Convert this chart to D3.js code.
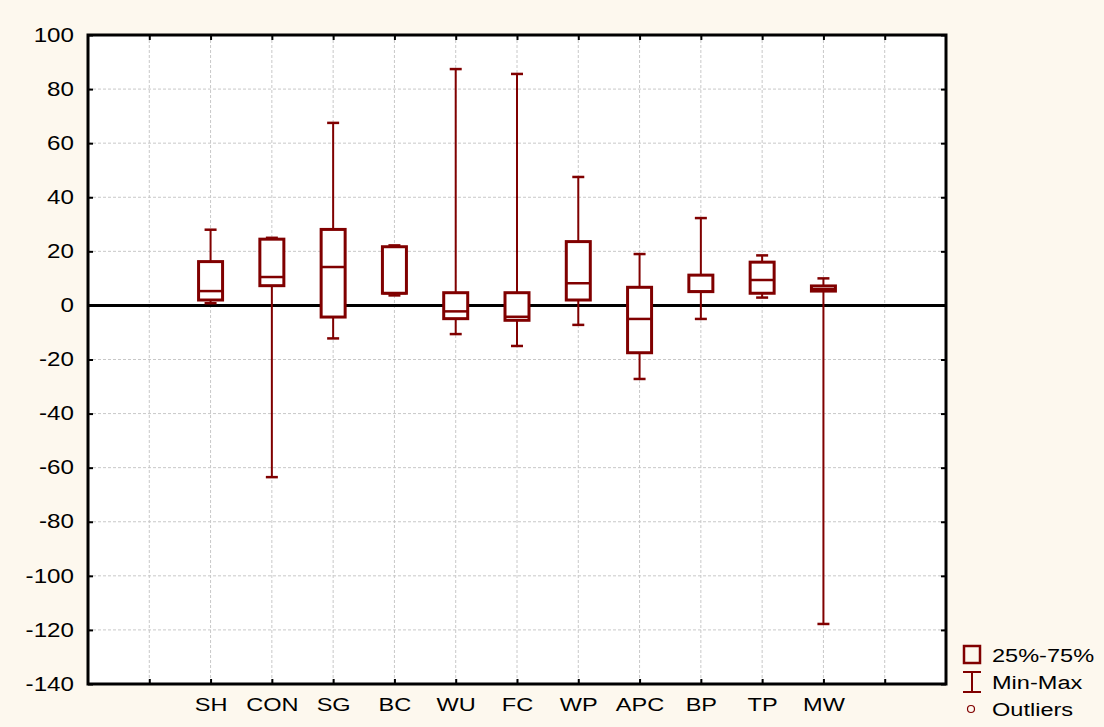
<!DOCTYPE html>
<html>
<head>
<meta charset="utf-8">
<script src="https://cdn.jsdelivr.net/npm/d3@7"></script>
<style>
  body { margin: 0; background: #fdf8ee; }
  svg { display: block; font-family: "Liberation Sans", Arial, sans-serif; }
</style>
</head>
<body>
<div class="canvas"></div>
<script>
const categories = ["SH", "CON", "SG", "BC", "WU", "FC", "WP", "APC", "BP", "TP", "MW"]
const maxs    = [28, 25, 67.5, 22.2, 87.4, 85.6, 47.5, 19, 32.3, 18.5, 10]
const q3s     = [16.2, 24.5, 28.1, 21.7, 4.7, 4.7, 23.6, 6.7, 11.2, 16, 7.2]
const medians = [5.3, 10.5, 14.2, 4.5, -2.2, -4.2, 8.2, -5, 5.1, 9.4, 6]
const q1s     = [2, 7.3, -4.3, 4.5, -4.9, -5.5, 2, -17.5, 5.1, 4.5, 5.3]
const mins    = [0.8, -63.5, -12.2, 3.7, -10.6, -15, -7.2, -27.2, -5, 2.9, -117.8]
const yTicks  = [-140, -120, -100, -80, -60, -40, -20, 0, 20, 40, 60, 80, 100]
const legendLabels = ["25%-75%", "Min-Max", "Outliers"]

const data = categories.map((c, i) => ({
  name: c, max: maxs[i], q3: q3s[i], median: medians[i], q1: q1s[i], min: mins[i]
}))

const width = 1104
const height = 727
const margin = { top: 35, left: 88, bottom: 43, right: 158 }
const graphWidth = width - margin.left - margin.right
const graphHeight = height - margin.top - margin.bottom
const red = '#800000'
const stretch = 1.24

// the original font is wide, so stretch text sideways around its anchor
function widen(sel) {
  sel.each(function () {
    const t = d3.select(this)
    const ax = +t.attr('x') || 0
    t.attr('transform', `translate(${ax},0) scale(${stretch},1) translate(${-ax},0)`)
  })
}

const svg = d3.select('.canvas')
  .append('svg')
    .attr('width', width)
    .attr('height', height)

const graph = svg.append('g')
  .attr('transform', `translate(${margin.left}, ${margin.top})`)

graph.append('rect')
  .attr('width', graphWidth)
  .attr('height', graphHeight)
  .attr('fill', '#fff')

// blank slots either side of the categories
const slots = ['_l', ...categories, '_r']

const x = d3.scalePoint()
  .domain(slots)
  .range([0, graphWidth])
  .padding(1)

const y = d3.scaleLinear()
  .domain([-140, 100])
  .range([graphHeight, 0])

// grid
graph.append('g')
  .selectAll('line')
  .data(yTicks.slice(1, -1))
  .enter().append('line')
    .attr('x1', 0).attr('x2', graphWidth)
    .attr('y1', d => y(d)).attr('y2', d => y(d))
    .attr('stroke', '#c8c8c8')
    .attr('stroke-dasharray', '3,2')

graph.append('g')
  .selectAll('line')
  .data(slots)
  .enter().append('line')
    .attr('x1', d => x(d)).attr('x2', d => x(d))
    .attr('y1', 0).attr('y2', graphHeight)
    .attr('stroke', '#c8c8c8')
    .attr('stroke-dasharray', '3,2')

// zero line
graph.append('line')
  .attr('x1', 0).attr('x2', graphWidth)
  .attr('y1', y(0)).attr('y2', y(0))
  .attr('stroke', '#000')
  .attr('stroke-width', 3)

// axes with inward ticks
const yAxis = d3.axisLeft(y).tickValues(yTicks).tickSizeInner(-5).tickSizeOuter(0).tickPadding(14)
const yAxisR = d3.axisRight(y).tickValues(yTicks).tickSizeInner(-5).tickSizeOuter(0).tickFormat('')
const xAxis = d3.axisBottom(x).tickSizeInner(-5).tickSizeOuter(0).tickPadding(14)
  .tickFormat(d => d.startsWith('_') ? '' : d)
const xAxisT = d3.axisTop(x).tickSizeInner(-5).tickSizeOuter(0).tickFormat('')

const yAxisGroup = graph.append('g').call(yAxis)
graph.append('g').attr('transform', `translate(${graphWidth}, 0)`).call(yAxisR)
const xAxisGroup = graph.append('g').attr('transform', `translate(0, ${graphHeight})`).call(xAxis)
graph.append('g').call(xAxisT)

graph.selectAll('.domain').remove()
graph.selectAll('.tick line').attr('stroke', '#000').attr('stroke-width', 2)

yAxisGroup.selectAll('text')
  .attr('font-size', 19.5)
  .attr('fill', '#000')
  .text(d => d < 0 ? '-' + Math.abs(d) : d)
  .call(widen)

xAxisGroup.selectAll('text')
  .attr('font-size', 19)
  .attr('fill', '#000')
  .call(widen)

// boxes
const boxW = 24
const capW = 12
const boxes = graph.append('g')
  .selectAll('g')
  .data(data)
  .enter().append('g')
    .attr('transform', d => `translate(${x(d.name)}, 0)`)

boxes.append('line')
  .attr('y1', d => y(d.max)).attr('y2', d => y(d.min))
  .attr('stroke', red).attr('stroke-width', 2)

boxes.append('line')
  .attr('x1', -capW / 2).attr('x2', capW / 2)
  .attr('y1', d => y(d.max)).attr('y2', d => y(d.max))
  .attr('stroke', red).attr('stroke-width', 2.5)

boxes.append('line')
  .attr('x1', -capW / 2).attr('x2', capW / 2)
  .attr('y1', d => y(d.min)).attr('y2', d => y(d.min))
  .attr('stroke', red).attr('stroke-width', 2.5)

boxes.append('rect')
  .attr('x', -boxW / 2)
  .attr('width', boxW)
  .attr('y', d => y(d.q3))
  .attr('height', d => y(d.q1) - y(d.q3))
  .attr('fill', '#fff')
  .attr('stroke', red).attr('stroke-width', 3)

boxes.append('line')
  .attr('x1', -boxW / 2).attr('x2', boxW / 2)
  .attr('y1', d => y(d.median)).attr('y2', d => y(d.median))
  .attr('stroke', red).attr('stroke-width', 2.5)

// frame
graph.append('rect')
  .attr('width', graphWidth)
  .attr('height', graphHeight)
  .attr('fill', 'none')
  .attr('stroke', '#000')
  .attr('stroke-width', 3)

// legend
const legend = svg.append('g')
  .attr('transform', 'translate(963, 645)')

legend.append('rect')
  .attr('x', 1).attr('y', 1)
  .attr('width', 16).attr('height', 17)
  .attr('fill', 'none').attr('stroke', red).attr('stroke-width', 2.5)

legend.append('line')
  .attr('x1', 0).attr('x2', 18).attr('y1', 27).attr('y2', 27)
  .attr('stroke', red).attr('stroke-width', 2)
legend.append('line')
  .attr('x1', 0).attr('x2', 18).attr('y1', 47).attr('y2', 47)
  .attr('stroke', red).attr('stroke-width', 2)
legend.append('line')
  .attr('x1', 9).attr('x2', 9).attr('y1', 27).attr('y2', 47)
  .attr('stroke', red).attr('stroke-width', 2)

legend.append('circle')
  .attr('cx', 8).attr('cy', 64).attr('r', 3.5)
  .attr('fill', 'none').attr('stroke', red).attr('stroke-width', 1.2)

legend.selectAll('text')
  .data(legendLabels)
  .enter().append('text')
    .attr('x', 29)
    .attr('y', (d, i) => 17 + i * 27)
    .attr('font-size', 19)
    .attr('fill', '#000')
    .text(d => d)
    .call(widen)
</script>
</body>
</html>
